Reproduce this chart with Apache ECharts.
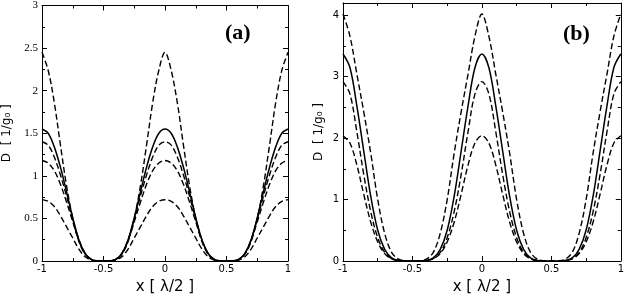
<!DOCTYPE html>
<html>
<head>
<meta charset="utf-8">
<script src="https://cdn.jsdelivr.net/npm/echarts@6/dist/echarts.min.js"></script>
<style>html,body{margin:0;padding:0;background:#fff}#c{width:627px;height:300px}</style>
</head>
<body>
<div id="c"></div>
<script>
// x positions (units of lambda/2)
const xs = [-1,-0.95,-0.9,-0.85,-0.8,-0.75,-0.7,-0.65,-0.6,-0.55,-0.5,-0.45,-0.4,-0.35,-0.3,-0.25,-0.2,-0.15,-0.1,-0.05,0,0.05,0.1,0.15,0.2,0.25,0.3,0.35,0.4,0.45,0.5,0.55,0.6,0.65,0.7,0.75,0.8,0.85,0.9,0.95,1];

// panel (a) curves
const a1 = [2.45,2.24,1.86,1.36,0.88,0.50,0.23,0.08,0.015,0.001,0,0.001,0.015,0.08,0.23,0.50,0.88,1.36,1.86,2.24,2.45,2.24,1.86,1.36,0.88,0.50,0.23,0.08,0.015,0.001,0,0.001,0.015,0.08,0.23,0.50,0.88,1.36,1.86,2.24,2.45];
const a2 = [1.55,1.50,1.34,1.10,0.81,0.51,0.25,0.09,0.02,0.002,0,0.002,0.02,0.09,0.25,0.51,0.81,1.10,1.34,1.50,1.55,1.50,1.34,1.10,0.81,0.51,0.25,0.09,0.02,0.002,0,0.002,0.02,0.09,0.25,0.51,0.81,1.10,1.34,1.50,1.55];
const a3 = [1.40,1.36,1.22,1.01,0.76,0.49,0.25,0.09,0.02,0.002,0,0.002,0.02,0.09,0.25,0.49,0.76,1.01,1.22,1.36,1.40,1.36,1.22,1.01,0.76,0.49,0.25,0.09,0.02,0.002,0,0.002,0.02,0.09,0.25,0.49,0.76,1.01,1.22,1.36,1.40];
const a4 = [1.18,1.15,1.06,0.90,0.69,0.46,0.24,0.09,0.02,0.002,0,0.002,0.02,0.09,0.24,0.46,0.69,0.90,1.06,1.15,1.18,1.15,1.06,0.90,0.69,0.46,0.24,0.09,0.02,0.002,0,0.002,0.02,0.09,0.24,0.46,0.69,0.90,1.06,1.15,1.18];
const a5 = [0.72,0.70,0.64,0.53,0.40,0.27,0.14,0.05,0.012,0.001,0,0.001,0.012,0.05,0.14,0.27,0.40,0.53,0.64,0.70,0.72,0.70,0.64,0.53,0.40,0.27,0.14,0.05,0.012,0.001,0,0.001,0.012,0.05,0.14,0.27,0.40,0.53,0.64,0.70,0.72];

// panel (b) curves
const b1 = [4.02,3.66,3.04,2.42,1.75,1.00,0.45,0.14,0.03,0.004,0,0.004,0.03,0.14,0.45,1.00,1.75,2.42,3.04,3.66,4.02,3.66,3.04,2.42,1.75,1.00,0.45,0.14,0.03,0.004,0,0.004,0.03,0.14,0.45,1.00,1.75,2.42,3.04,3.66,4.02];
const b2 = [3.37,3.15,2.52,1.78,1.05,0.50,0.19,0.05,0.01,0.001,0,0.001,0.01,0.05,0.19,0.50,1.05,1.78,2.52,3.15,3.37,3.15,2.52,1.78,1.05,0.50,0.19,0.05,0.01,0.001,0,0.001,0.01,0.05,0.19,0.50,1.05,1.78,2.52,3.15,3.37];
const b3 = [2.92,2.72,2.10,1.40,0.80,0.38,0.14,0.04,0.008,0.001,0,0.001,0.008,0.04,0.14,0.38,0.80,1.40,2.10,2.72,2.92,2.72,2.10,1.40,0.80,0.38,0.14,0.04,0.008,0.001,0,0.001,0.008,0.04,0.14,0.38,0.80,1.40,2.10,2.72,2.92];
const b4 = [2.04,1.92,1.56,1.08,0.63,0.31,0.12,0.035,0.007,0.001,0,0.001,0.007,0.035,0.12,0.31,0.63,1.08,1.56,1.92,2.04,1.92,1.56,1.08,0.63,0.31,0.12,0.035,0.007,0.001,0,0.001,0.007,0.035,0.12,0.31,0.63,1.08,1.56,1.92,2.04];

const seriesA = [{v:a1,solid:false},{v:a2,solid:true},{v:a3,solid:false},{v:a4,solid:false},{v:a5,solid:false}];
const seriesB = [{v:b1,solid:false},{v:b2,solid:true},{v:b3,solid:false},{v:b4,solid:false}];

const chart = echarts.init(document.getElementById('c'));
const black = '#000';

function xAxisDef(grid, bottom) {
  return {
    type:'value', gridIndex:grid, min:-1, max:1, interval:0.5,
    position: bottom ? 'bottom' : 'top',
    name: bottom ? 'x [ λ/2 ]' : '', nameLocation:'middle', nameGap:19,
    nameTextStyle:{fontFamily:'DejaVu Sans', fontSize:15, color:black},
    axisLine:{show:true, onZero:false, lineStyle:{color:black, width:1}},
    axisTick:{show:true, inside:true, length:5, lineStyle:{color:black}},
    minorTick:{show:true, splitNumber:2, length:3, lineStyle:{color:black}},
    axisLabel:{show:bottom, fontFamily:'DejaVu Sans', fontSize:10, color:black, margin:3},
    splitLine:{show:false}
  };
}
function yAxisDef(grid, left, max, interval, serif, name) {
  return {
    type:'value', gridIndex:grid, min:0, max:max, interval:interval,
    position: left ? 'left' : 'right',
    name: left ? name : '', nameLocation:'middle', nameGap: grid===0 ? 29 : 18, nameRotate:90,
    nameTextStyle:{fontFamily:'DejaVu Sans', fontSize:12, color:black},
    axisLine:{show:true, onZero:false, lineStyle:{color:black, width:1}},
    axisTick:{show:true, inside:true, length:5, lineStyle:{color:black}},
    minorTick:{show:true, splitNumber:2, length:3, lineStyle:{color:black}},
    axisLabel:{show:left, showMaxLabel: grid===0, fontFamily: serif ? 'Liberation Serif' : 'DejaVu Sans', fontSize: serif ? 11 : 10, color:black, margin:4,
      formatter: v => (Math.abs(v*2 - Math.round(v*2)) < 1e-9 ? String(v) : '')},
    splitLine:{show:false}
  };
}

function mk(list, gi) {
  return list.map(s => ({
    type:'line', xAxisIndex: gi*2, yAxisIndex: gi*2, showSymbol:false, smooth:0.35,
    clip:true, animation:false,
    data: xs.map((x,i) => [x, s.v[i]]),
    lineStyle:{color:black, width: s.solid ? 1.5 : 1.4, type: s.solid ? 'solid' : [6,3]}
  }));
}

chart.setOption({
  animation:false,
  title:[
    {text:'(a)', left:220, top:17, textStyle:{fontFamily:'Liberation Serif', fontWeight:'bold', fontSize:22, color:black}},
    {text:'(b)', left:558, top:18, textStyle:{fontFamily:'Liberation Serif', fontWeight:'bold', fontSize:22, color:black}}
  ],
  grid:[
    {left:42, top:3, right:339, bottom:27},
    {left:343, top:3, right:4, bottom:27}
  ],
  xAxis:[xAxisDef(0,true), xAxisDef(0,false), xAxisDef(1,true), xAxisDef(1,false)],
  yAxis:[yAxisDef(0,true,3,0.5,true,'D  [ 1/g₀ ]'), yAxisDef(0,false,3,0.5,true,''),
         yAxisDef(1,true,4.2,1,false,'D  [ 1/g₀ ]'), yAxisDef(1,false,4.2,1,false,'')],
  series: mk(seriesA,0).concat(mk(seriesB,1))
});
</script>
</body>
</html>
